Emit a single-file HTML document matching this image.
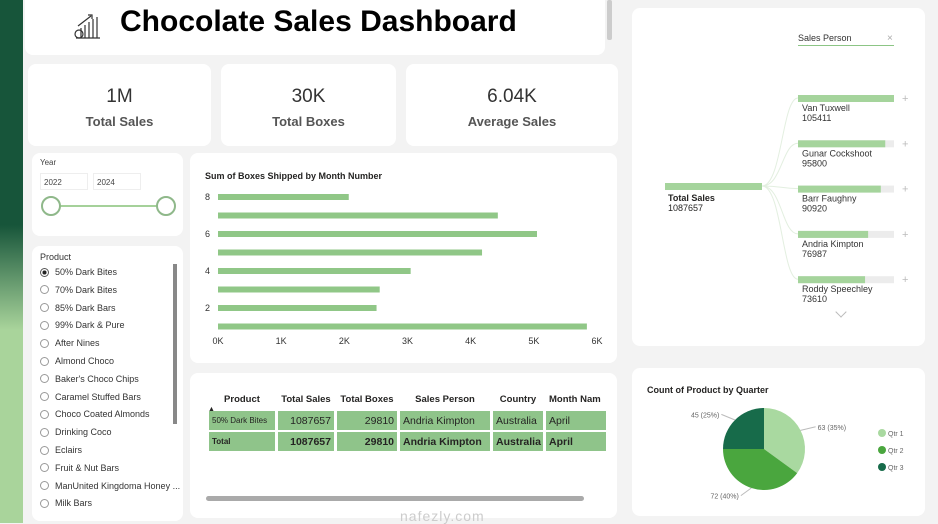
<!DOCTYPE html>
<html><head><meta charset="utf-8"><style>
*{box-sizing:border-box;margin:0;padding:0}
body{width:938px;height:523px;overflow:hidden;background:#f3f3f3;font-family:"Liberation Sans","DejaVu Sans",sans-serif;position:relative;color:#252423}
.card{position:absolute;background:#fff;border-radius:8px}
.abs{position:absolute}
.kv{position:absolute;width:100%;text-align:center;font-size:19px;color:#333;top:22px}
.kl{position:absolute;width:100%;text-align:center;font-size:13px;font-weight:bold;color:#555;top:50px}
.item{position:absolute;left:8px;font-size:9px;color:#333;display:flex;align-items:center;white-space:nowrap}
.item i{display:inline-block;width:9px;height:9px;border:1px solid #999;border-radius:50%;margin-right:6px;background:#fff}
table{table-layout:fixed}
td,th{font-size:10.5px;padding:0 3px;height:19px;white-space:nowrap;overflow:hidden}
th{font-size:9.5px}
</style></head><body>
<div class="abs" style="left:0;top:0;width:23px;height:523px;background:linear-gradient(#17553a 0,#17553a 225px,#a9d49b 330px,#a9d49b 523px)"></div>

<div class="card" style="left:25px;top:0;width:580px;height:55px;border-radius:0 0 8px 8px">
 <svg class="abs" style="left:48px;top:12px" width="28" height="28" viewBox="0 0 28 28" fill="none" stroke="#333" stroke-width="1.2"><path d="M3 26h24M8 26V16M12 26V13M16 26V10M20 26V7M24 26V5M5 14L18 4"/><path d="M15 3h4v4"/><circle cx="6" cy="22" r="4"/></svg>
 <div class="abs" style="left:95px;top:5px;font-size:30px;font-weight:bold;color:#000">Chocolate Sales Dashboard</div>
</div>
<div class="abs" style="left:607px;top:0;width:5px;height:40px;background:#ccc;border-radius:2px"></div>

<div class="card" style="left:28px;top:64px;width:183px;height:82px"><div class="kv">1M</div><div class="kl">Total Sales</div></div>
<div class="card" style="left:221px;top:64px;width:175px;height:82px"><div class="kv">30K</div><div class="kl">Total Boxes</div></div>
<div class="card" style="left:406px;top:64px;width:212px;height:82px"><div class="kv">6.04K</div><div class="kl">Average Sales</div></div>

<div class="card" style="left:32px;top:153px;width:151px;height:83px">
 <div class="abs" style="left:8px;top:5px;font-size:8px;color:#444">Year</div>
 <div class="abs" style="left:8px;top:20px;width:48px;height:17px;border:1px solid #eee;font-size:8px;padding:4px 3px;color:#444">2022</div>
 <div class="abs" style="left:61px;top:20px;width:48px;height:17px;border:1px solid #eee;font-size:8px;padding:4px 3px;color:#444">2024</div>
 <div class="abs" style="left:18px;top:52px;width:115px;height:2px;background:#a5d19a"></div>
 <div class="abs" style="left:9px;top:43px;width:20px;height:20px;border:2px solid #8fb88a;border-radius:50%;background:#fff"></div>
 <div class="abs" style="left:124px;top:43px;width:20px;height:20px;border:2px solid #8fb88a;border-radius:50%;background:#fff"></div>
</div>

<div class="card" style="left:32px;top:246px;width:151px;height:275px" id="prod">
 <div class="abs" style="left:8px;top:6px;font-size:9px;color:#333">Product</div>
 <div class="abs" style="left:141px;top:18px;width:4px;height:160px;background:#888"></div>
</div>

<div class="card" style="left:190px;top:153px;width:427px;height:210px">
 <svg id="bars" width="427" height="210"></svg>
</div>

<div class="card" style="left:190px;top:373px;width:427px;height:145px">
 <table style="position:absolute;left:16px;top:15px;border-collapse:separate;border-spacing:3px 2px;width:400px">
  <colgroup><col style="width:66px"><col style="width:56px"><col style="width:60px"><col style="width:90px"><col style="width:50px"><col style="width:60px"></colgroup>
  <tr style="font-weight:bold"><th style="text-align:center">Product</th><th>Total Sales</th><th>Total Boxes</th><th>Sales Person</th><th>Country</th><th style="text-align:left">Month Nam</th></tr>
  <tr style="background:#8fc48a"><td style="font-size:8px">50% Dark Bites</td><td style="text-align:right">1087657</td><td style="text-align:right">29810</td><td>Andria Kimpton</td><td>Australia</td><td>April</td></tr>
  <tr style="background:#8fc48a;font-weight:bold"><td style="font-size:8px">Total</td><td style="text-align:right">1087657</td><td style="text-align:right">29810</td><td>Andria Kimpton</td><td>Australia</td><td>April</td></tr>
 </table>
 <div class="abs" style="left:18px;top:33px;font-size:7px">▲</div>
 <div class="abs" style="left:16px;top:123px;width:378px;height:5px;background:#aaa;border-radius:3px"></div>
 <div class="abs" style="left:210px;top:135px;font-size:14px;color:#ccc;letter-spacing:1px">nafezly.com</div>
</div>

<div class="card" style="left:632px;top:8px;width:293px;height:338px" id="tree">
 <div class="abs" style="left:166px;top:25px;width:96px;font-size:9px;color:#333;border-bottom:1px solid #8cc585;padding-bottom:2px">Sales Person</div>
 <div class="abs" style="left:255px;top:25px;font-size:10px;color:#aaa">×</div>
 <div class="abs" style="left:33px;top:175px;width:97px;height:7px;background:#a5d49c"></div>
 <div class="abs" style="left:36px;top:185px;font-size:9px;line-height:10px"><b>Total Sales</b><br>1087657</div>
 <div class="abs" style="left:205px;top:300px;width:8px;height:8px;border-right:1px solid #bbb;border-bottom:1px solid #bbb;transform:rotate(45deg)"></div>
 <svg id="treesvg" class="abs" style="left:0;top:0" width="293" height="338"></svg>
</div>

<div class="card" style="left:632px;top:368px;width:293px;height:148px">
 <svg id="pie" width="293" height="148"></svg>
</div>

<script>
const NS="http://www.w3.org/2000/svg";
function mk(p,t,a){const e=document.createElementNS(NS,t);for(const k in a)e.setAttribute(k,a[k]);p.appendChild(e);return e;}

// Bar chart data
const months=[8,7,6,5,4,3,2,1];
const boxes=[2070,4430,5050,4180,3050,2560,2510,5840];
const xTicks=[0,1000,2000,3000,4000,5000,6000];
const xTickLabels=["0K","1K","2K","3K","4K","5K","6K"];
const yLabels=[8,6,4,2];

// Decomp tree data
const people=["Van Tuxwell","Gunar Cockshoot","Barr Faughny","Andria Kimpton","Roddy Speechley"];
const personSales=[105411,95800,90920,76987,73610];

// Pie data
const quarters=["Qtr 1","Qtr 2","Qtr 3"];
const counts=[63,72,45];

// bars
const bs=document.getElementById('bars');
const x0=28,x1=407,xMax=6000;
const xs=v=>x0+(v/xMax)*(x1-x0);
const ys=i=>44+i*18.5;
const t=mk(bs,'text',{x:15,y:26,'font-size':9,'font-weight':'bold',fill:'#252423'});t.textContent="Sum of Boxes Shipped by Month Number";

months.forEach((m,i)=>{
 const r=mk(bs,'rect',{x:xs(0),y:ys(i)-3,width:xs(boxes[i])-xs(0),height:6,fill:'#90c787'});
 
 
 if(yLabels.includes(m)){const l=mk(bs,'text',{x:15,y:ys(i)+3,'font-size':9,fill:'#333'});l.textContent=m;
  
  }
});
xTicks.forEach((v,i)=>{const l=mk(bs,'text',{x:xs(v),y:191,'font-size':9,fill:'#333','text-anchor':'middle'});l.textContent=xTickLabels[i];
 
 });

// products
const prods=["50% Dark Bites","70% Dark Bites","85% Dark Bars","99% Dark & Pure","After Nines","Almond Choco","Baker's Choco Chips","Caramel Stuffed Bars","Choco Coated Almonds","Drinking Coco","Eclairs","Fruit & Nut Bars","ManUnited Kingdoma Honey ...","Milk Bars"];
const pd=document.getElementById('prod');
prods.forEach((p,i)=>{const d=document.createElement('div');d.className='item';d.style.top=(21+i*17.8)+'px';
 d.innerHTML=(i==0?'<i style="border-color:#555;background:radial-gradient(#222 40%,#fff 45%)"></i>':'<i></i>')+p;
 
 
 pd.appendChild(d);});

// tree
const ts=document.getElementById('treesvg');
const maxS=personSales[0];
people.forEach((p,i)=>{
 const y=90+i*45.3;
 mk(ts,'path',{d:`M130 178 C150 178 150 ${y} 166 ${y}`,stroke:'#e3efe0',fill:'none'});
 mk(ts,'rect',{x:166,y:y-3,width:96,height:7,fill:'#ececec'});
 const b=mk(ts,'rect',{x:166,y:y-3,width:96*personSales[i]/maxS,height:7,fill:'#a5d49c'});
 
 
 const pl=mk(ts,'text',{x:270,y:y+4,'font-size':11,fill:'#bbb'});pl.textContent='+';
 
 
 const n=mk(ts,'text',{x:170,y:y+13,'font-size':9,fill:'#333'});n.textContent=p;
 const v=mk(ts,'text',{x:170,y:y+23,'font-size':9,fill:'#333'});v.textContent=personSales[i];
});

// pie
const ps=document.getElementById('pie');
const pt=mk(ps,'text',{x:15,y:25,'font-size':9,'font-weight':'bold',fill:'#252423'});pt.textContent="Count of Product by Quarter";
const cols=['#a9d9a0','#4aa63e','#176b4a'];
const cx=132,cy=81,R=41,tot=counts.reduce((a,b)=>a+b,0);
let a=-Math.PI/2;
counts.forEach((c,i)=>{
 const a2=a+c/tot*2*Math.PI;
 const p=mk(ps,'path',{d:`M${cx} ${cy}L${cx+R*Math.cos(a)} ${cy+R*Math.sin(a)}A${R} ${R} 0 ${a2-a>Math.PI?1:0} 1 ${cx+R*Math.cos(a2)} ${cy+R*Math.sin(a2)}Z`,fill:cols[i]});
 
 
 const m=(a+a2)/2,ex=cx+(R+8)*Math.cos(m),ey=cy+(R+8)*Math.sin(m);
 const right=Math.cos(m)>0;
 mk(ps,'line',{x1:cx+R*Math.cos(m),y1:cy+R*Math.sin(m),x2:ex+(right?8:-8),y2:ey,stroke:'#bbb'});
 const l=mk(ps,'text',{x:ex+(right?10:-10),y:ey+3,'font-size':7,fill:'#666','text-anchor':right?'start':'end'});
 l.textContent=c+' ('+Math.round(c/tot*100)+'%)';
 
 
 a=a2;
 const lg=mk(ps,'circle',{cx:250,cy:65+i*17,r:4,fill:cols[i]});
 
 
 const lt=mk(ps,'text',{x:256,y:68+i*17,'font-size':7,fill:'#666'});lt.textContent=quarters[i];
 
 
});
</script>
</body></html>
